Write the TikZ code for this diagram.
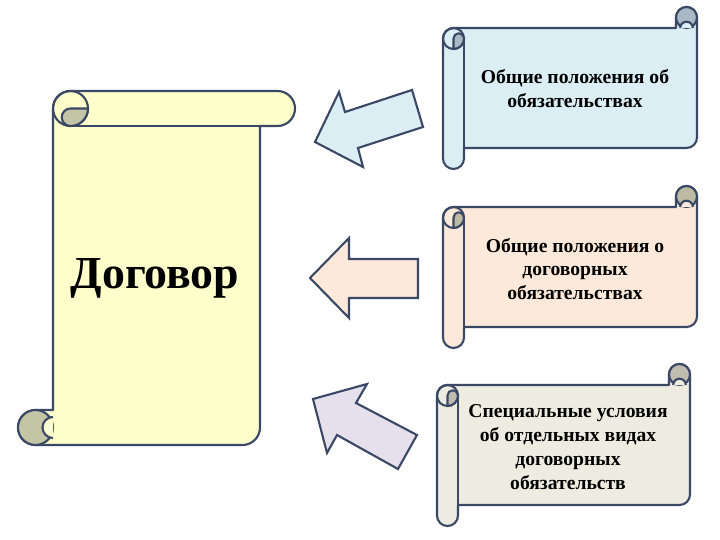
\documentclass[tikz,border=0pt]{standalone}
\usepackage{fontspec}
\setmainfont{Liberation Serif}
\definecolor{outl}{HTML}{3A4866}
\definecolor{yelF}{HTML}{FFFFCC}
\definecolor{yelD}{HTML}{C4C4A6}
\definecolor{bluF}{HTML}{DBEEF4}
\definecolor{bluD}{HTML}{A9B9C6}
\definecolor{peaF}{HTML}{FDE9D9}
\definecolor{peaD}{HTML}{BDBBA4}
\definecolor{graF}{HTML}{EEECE1}
\definecolor{graD}{HTML}{BFBDB0}
\definecolor{lavF}{HTML}{E5E0EC}
\tikzset{
  scroll line/.style={draw=outl, line width=2.1bp, line join=round},
  arrowshape/.style={draw=outl, line width=2.1bp, line join=miter},
  scrolltext/.style={font=\bfseries\fontsize{19.7}{24}\selectfont, align=center, text=black, inner sep=0pt},
}
% vertical scroll: X0 Y0 X1 Y1 c fill dark  (pixel coords, y down)
\newcommand\VScroll[7]{%
\pgfmathsetmacro\ScH{#5/2}%
\pgfmathsetmacro\ScQ{#5/4}%
\pgfmathsetmacro\ScN{#5*0.3}%
\pgfmathsetmacro\ScL{#1+#5}%
\pgfmathsetmacro\ScR{#3-#5}%
\pgfmathsetmacro\ScLh{#1+1.5*#5}%
\pgfmathsetmacro\ScLc{#1+2*#5}%
\pgfmathsetmacro\ScT{#2+#5}%
\pgfmathsetmacro\ScTh{#2+#5/2}%
\pgfmathsetmacro\ScBh{#4-#5/2}%
\pgfmathsetmacro\ScBc{#4-#5}%
\pgfmathsetmacro\ScXh{#1+#5/2}%
\pgfmathsetmacro\ScXe{#3-#5/2}%
\filldraw[scroll line, fill=#6] (\ScL,\ScTh) arc[start angle=180,end angle=270,radius=\ScH]
  -- (\ScXe,#2) arc[start angle=270,end angle=450,radius=\ScH]
  -- (\ScR,\ScT) -- (\ScR,\ScBh) arc[start angle=0,end angle=90,radius=\ScH]
  -- (\ScXh,#4) arc[start angle=90,end angle=270,radius=\ScH]
  -- (\ScL,\ScBc) -- cycle;
\draw[scroll line] (\ScLh,\ScT) -- (\ScR,\ScT);
\draw[scroll line] (\ScLh,\ScTh) circle[radius=\ScH];
\filldraw[scroll line, fill=#7] (\ScLc,\ScTh) arc[start angle=0,end angle=90,radius=\ScH]
  arc[start angle=90,end angle=270,radius=\ScQ] -- cycle;
\filldraw[scroll line, fill=#7] (\ScXh,\ScBh) circle[radius=\ScH];
\fill[#6] (\ScL,{\ScBh+\ScN}) arc[start angle=90,end angle=270,radius=\ScN] -- cycle;
\draw[scroll line] (\ScL,{\ScBh+\ScN}) arc[start angle=90,end angle=270,radius=\ScN];
}
% horizontal scroll: X0 Y0 X1 Y1 c fill dark
\newcommand\HScroll[7]{%
\pgfmathsetmacro\ScH{#5/2}%
\pgfmathsetmacro\ScQ{#5/4}%
\pgfmathsetmacro\ScN{#5*0.3}%
\pgfmathsetmacro\ScXh{#1+#5/2}%
\pgfmathsetmacro\ScXc{#1+#5}%
\pgfmathsetmacro\ScXe{#3-#5/2}%
\pgfmathsetmacro\ScXk{#3-#5}%
\pgfmathsetmacro\ScTc{#2+#5}%
\pgfmathsetmacro\ScTch{#2+1.5*#5}%
\pgfmathsetmacro\ScTtc{#2+2*#5}%
\pgfmathsetmacro\ScTh{#2+#5/2}%
\pgfmathsetmacro\ScBh{#4-#5/2}%
\pgfmathsetmacro\ScBc{#4-#5}%
\filldraw[scroll line, fill=#6] (\ScXh,\ScTc) arc[start angle=-90,end angle=-180,radius=\ScH]
  -- (#1,\ScBh) arc[start angle=-180,end angle=-360,radius=\ScH]
  -- (\ScXc,\ScBc) -- (\ScXe,\ScBc) arc[start angle=90,end angle=0,radius=\ScH]
  -- (#3,\ScTh) arc[start angle=0,end angle=-180,radius=\ScH]
  -- (\ScXk,\ScTc) -- cycle;
\draw[scroll line] (\ScXc,\ScTch) -- (\ScXc,\ScBc);
\draw[scroll line] (\ScXh,\ScTch) circle[radius=\ScH];
\filldraw[scroll line, fill=#7] (\ScXh,\ScTtc) arc[start angle=90,end angle=0,radius=\ScH]
  arc[start angle=0,end angle=-180,radius=\ScQ] -- cycle;
\filldraw[scroll line, fill=#7] (\ScXe,\ScTh) circle[radius=\ScH];
\fill[#6] ({\ScXe-\ScN},\ScTc) arc[start angle=180,end angle=360,radius=\ScN] -- cycle;
\draw[scroll line] ({\ScXe-\ScN},\ScTc) arc[start angle=180,end angle=360,radius=\ScN];
}
\begin{document}
\begin{tikzpicture}[x=1bp,y=-1bp]
\useasboundingbox (0,0) rectangle (720,540);
\fill[white] (0,0) rectangle (720,540);

% scrolls
\VScroll{18}{91}{295}{445}{35}{yelF}{yelD}
\HScroll{443}{7}{697}{169}{21}{bluF}{bluD}
\HScroll{443}{186}{697}{348}{21}{peaF}{peaD}
\HScroll{437}{364}{690}{526}{21}{graF}{graD}

% texts
\node[font=\bfseries\fontsize{46}{50}\selectfont, inner sep=0pt] (dog) at (155,278) {Договор};
\node[scrolltext] (t1) at (575,89) {Общие положения об\\обязательствах};
\node[scrolltext] (t2) at (575,269) {Общие положения о\\договорных\\обязательствах};
\node[scrolltext] (t3) at (568,447) {Специальные условия\\об отдельных видах\\договорных\\обязательств};

% arrows
\filldraw[arrowshape, fill=bluF] (315,142) -- (339,92) -- (345,112) -- (412,90) -- (423,127) -- (358,148) -- (363,167) -- cycle;
\filldraw[arrowshape, fill=peaF] (310,278) -- (349,238) -- (349,259) -- (418,259) -- (418,298) -- (349,298) -- (349,318) -- cycle;
\filldraw[arrowshape, fill=lavF] (313,399) -- (367,384) -- (356,403) -- (417,435) -- (398,469) -- (337,435) -- (327,453) -- cycle;
\end{tikzpicture}
\end{document}
